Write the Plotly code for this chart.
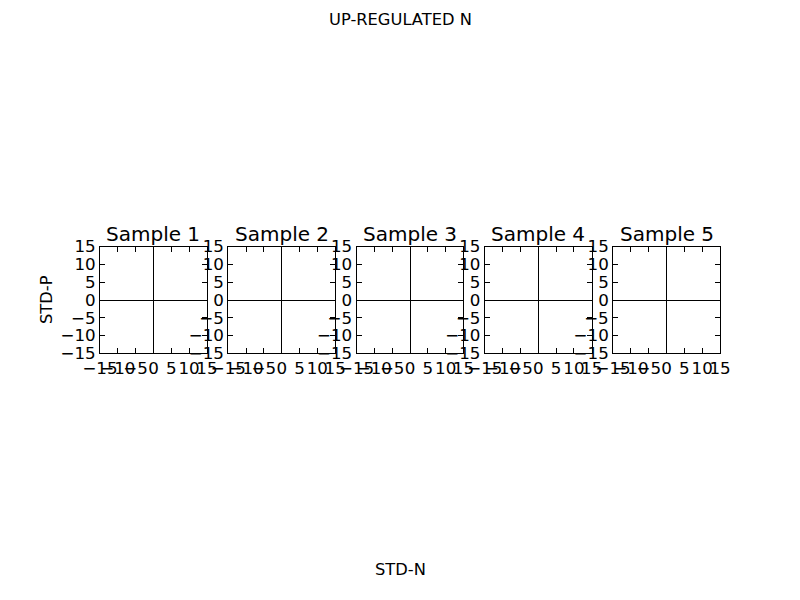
import plotly.graph_objects as go

samples = ["Sample 1", "Sample 2", "Sample 3", "Sample 4", "Sample 5"]
tick_vals = [-15, -10, -5, 0, 5, 10, 15]
tick_text = ["\u221215", "\u221210", "\u22125", "0", "5", "10", "15"]
axis_range = [-15, 15]
suptitle = "UP-REGULATED N"
xlabel = "STD-N"
ylabel = "STD-P"

W, H = 800, 600
left, right = 0.125, 0.9
n = len(samples)
wspace = 0.2
w = (right - left) / (n + (n - 1) * wspace)
gap = w * wspace
hpx = w * W
y0 = (H / 2 - hpx / 2) / H
y1 = (H / 2 + hpx / 2) / H

fig = go.Figure()
tickfont = dict(family="DejaVu Sans", size=16.7, color="black")
for i, name in enumerate(samples):
    xa = "xaxis" if i == 0 else f"xaxis{i+1}"
    ya = "yaxis" if i == 0 else f"yaxis{i+1}"
    xref = "x" if i == 0 else f"x{i+1}"
    yref = "y" if i == 0 else f"y{i+1}"
    d0 = left + i * (w + gap)
    d1 = d0 + w
    common = dict(range=axis_range, tickmode="array", tickvals=tick_vals, ticktext=tick_text,
                  ticks="inside", ticklen=5, tickwidth=1, tickcolor="black",
                  showline=True, linecolor="black", linewidth=1, mirror="ticks",
                  showgrid=False, zeroline=True, zerolinecolor="black", zerolinewidth=1,
                  tickfont=tickfont, tickangle=0, fixedrange=True, automargin=False)
    fig.update_layout({
        xa: dict(domain=[d0, d1], anchor=yref, ticklabelstandoff=0, **common),
        ya: dict(domain=[y0, y1], anchor=xref, ticklabelstandoff=0, **common),
    })
    fig.add_trace(go.Scatter(x=[], y=[], xaxis=xref, yaxis=yref, showlegend=False))
    fig.add_annotation(text=name, x=(d0 + d1) / 2, y=y1, xref="paper", yref="paper",
                       xanchor="center", yanchor="bottom", yshift=-1, showarrow=False,
                       font=dict(family="DejaVu Sans", size=20, color="black"))

labfont = dict(family="DejaVu Sans", size=16.3, color="black")
fig.add_annotation(text=suptitle, x=0.5, y=1 - 20 / H, xref="paper", yref="paper",
                   xanchor="center", yanchor="middle", showarrow=False, font=labfont)
fig.add_annotation(text=xlabel, x=0.5, y=1 - 569 / H, xref="paper", yref="paper",
                   xanchor="center", yanchor="middle", showarrow=False, font=labfont)
fig.add_annotation(text=ylabel, x=46 / W, y=0.5, xref="paper", yref="paper",
                   xanchor="center", yanchor="middle", showarrow=False, textangle=-90, font=labfont)

fig.update_layout(width=W, height=H, margin=dict(l=0, r=0, t=0, b=0),
                  paper_bgcolor="white", plot_bgcolor="white")
fig.write_html("out.html")
